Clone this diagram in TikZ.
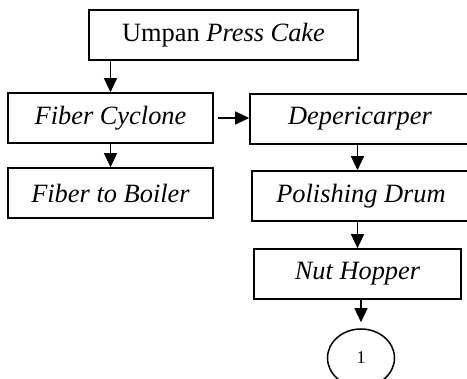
\documentclass[tikz,border=0pt]{standalone}
\usepackage{fontspec}
\setmainfont{Liberation Serif}
\usetikzlibrary{arrows.meta,shapes.geometric}

\begin{document}
\begin{tikzpicture}[
    x=1pt, y=-1pt,
    font=\fontsize{26.4}{30}\selectfont,
    box/.style={draw=black, line width=1.6pt, rectangle, inner sep=0pt, minimum height=50pt},
    endcirc/.style={draw=black, line width=1.5pt, ellipse, inner sep=0pt, minimum width=67pt, minimum height=58pt, font=\fontsize{18}{20}\selectfont},
    arrow/.style={-{Triangle[length=14pt,width=13pt]}, line width=1.2pt, black}
]

\useasboundingbox (0,0) rectangle (467,379);

% Boxes
\node[box, minimum width=269pt] (umpan)   at (223.5,35)  {Umpan \textit{Press Cake}};
\node[box, minimum width=205pt] (cyclone) at (110.5,118) {\textit{Fiber Cyclone}};
\node[box, minimum width=205pt] (boiler)  at (110.5,193) {\textit{Fiber to Boiler}};
\node[box, minimum width=220pt] (deperi)  at (360,119)   {\textit{Depericarper}};
\node[box, minimum width=218pt] (drum)    at (361,196)   {\textit{Polishing Drum}};
\node[box, minimum width=207pt] (hopper)  at (357.5,274) {\textit{Nut Hopper}};

% Connector
\node[endcirc] (next) at (361,358) {1};

% Arrows
\draw[arrow] (umpan.south -| cyclone.north) -- (cyclone.north);
\draw[arrow] (cyclone) -- (boiler);
\draw[arrow, shorten <=4pt] (cyclone.east) -- (cyclone.east -| deperi.west);
\draw[arrow] (deperi.south -| hopper) -- (drum.north -| hopper);
\draw[arrow] (drum.south -| hopper) -- (hopper.north);
\draw[arrow, shorten >=6pt] (hopper.south -| next) -- (next.north);

\end{tikzpicture}
\end{document}
